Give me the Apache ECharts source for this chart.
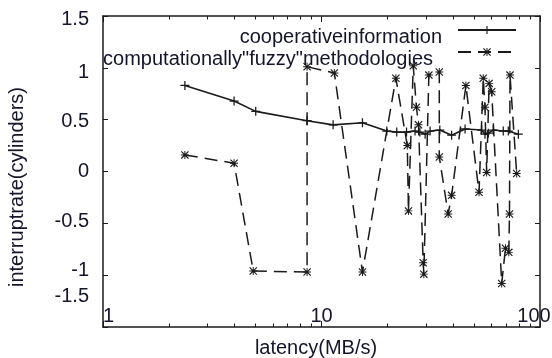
<!DOCTYPE html>
<html><head><meta charset="utf-8">
<script src="https://cdn.jsdelivr.net/npm/echarts@6/dist/echarts.min.js"></script>
<style>html,body{margin:0;padding:0;background:#fff}#c{width:552px;height:358px}</style>
</head><body><div id="c"></div>
<script>
// ---- data ----
const seriesNames = ['cooperativeinformation', 'computationally"fuzzy"methodologies'];
const xAxisTitle = 'latency(MB/s)';
const yAxisTitle = 'interruptrate(cylinders)';
const xMajorTicks = [1, 10, 100];
const xMinorTicks = [2, 3, 4, 5, 6, 7, 8, 9, 20, 30, 40, 50, 60, 70, 80, 90];
const yTicks = [-1.5, -1, -0.5, 0, 0.5, 1, 1.5];

const coopX = [2.37, 3.98, 5.0, 8.59, 11.3, 15.4, 19.9, 22.1, 24.5, 26.8, 28.2, 29.8, 31.4, 34.8, 39.4, 45.4, 54.1, 56.0, 58.0, 61.1, 67.9, 71.6, 79.6];
const coopY = [0.83, 0.68, 0.58, 0.49, 0.45, 0.47, 0.39, 0.38, 0.38, 0.39, 0.38, 0.36, 0.39, 0.40, 0.35, 0.41, 0.40, 0.36, 0.37, 0.40, 0.39, 0.39, 0.36];

const fuzzyX = [2.37, 3.98, 4.87, 8.59, 8.59, 11.45, 15.4, 21.9, 24.7, 25.0, 26.3, 27.2, 27.8, 29.2, 29.4, 31.0, 34.6, 34.6, 38.0, 39.4, 45.8, 52.6, 55.0, 56.0, 57.0, 58.5, 60.1, 66.8, 69.5, 72.0, 72.5, 72.9, 78.2];
const fuzzyY = [0.16, 0.08, -0.96, -0.97, 1.01, 0.95, -0.97, 0.9, 0.25, -0.38, 1.02, 0.62, 0.45, -0.88, -0.99, 0.93, 0.96, 0.14, -0.41, -0.23, 0.83, -0.2, 0.9, 0.62, -0.01, 0.85, 0.77, -1.08, -0.74, -0.78, -0.41, 0.93, -0.02];

// ---- style ----
const FONT = 'Liberation Sans';
const FS = 20;
const TXT = '#15152a';
const INK = '#1a1a1a';
const plusSym = 'path://M4.3,0H5.7V4.3H10V5.7H5.7V10H4.3V5.7H0V4.3H4.3Z';
const starSym = 'path://M0,1L1,0L10,9L9,10Z M9,0L10,1L1,10L0,9Z M4.4,0H5.6V10H4.4Z M0,4.4H10V5.6H0Z';

// per-label vertical nudges (px, + = down)
const yLabelShift = {'1.5': 3, '1': 5, '0.5': 2, '0': 0, '-0.5': -2, '-1': -5, '-1.5': -31};
const yRich = {};
Object.keys(yLabelShift).forEach((k, i) => {
  const s = yLabelShift[k];
  yRich['r' + i] = {fontFamily: FONT, fontSize: FS, color: TXT,
    padding: s >= 0 ? [2 * s, 0, 0, 0] : [0, 0, -2 * s, 0]};
});
const yKeys = Object.keys(yLabelShift);

const xRich = {
  lo: {fontFamily: FONT, fontSize: FS, color: TXT, padding: [0, 0, 0, 11]},
  mid: {fontFamily: FONT, fontSize: FS, color: TXT},
  hi: {fontFamily: FONT, fontSize: FS, color: TXT, padding: [0, 12, 0, 0]}
};

const grid = {left: 103, right: 12, top: 16, bottom: 31, outerBoundsMode: 'none'};

function logAxis(pos, ticks, len, showLine, showLabel) {
  return {
    type: 'log', logBase: 10, min: 1, max: 100, position: pos, gridIndex: 0,
    axisLine: {show: showLine, onZero: false, lineStyle: {color: INK, width: 1.5}},
    axisTick: {show: true, inside: true, length: len, customValues: ticks, lineStyle: {color: INK, width: 1}},
    axisLabel: showLabel ? {
      show: true, inside: true, margin: 11, verticalAlign: 'middle', customValues: xMajorTicks,
      showMinLabel: true, showMaxLabel: true,
      formatter: v => (v <= 1 ? '{lo|' : v >= 100 ? '{hi|' : '{mid|') + v + '}',
      rich: xRich
    } : {show: false},
    splitLine: {show: false}, minorTick: {show: false}
  };
}

// icon-only legend (line sample) and text-only legend for each series
function iconLegend(name, top) {
  return {
    data: [name], right: 35, top: top, padding: 0, align: 'right',
    itemWidth: 58, itemHeight: 10, itemGap: 0, selectedMode: false,
    formatter: () => '',
    textStyle: {fontSize: 1}
  };
}
function textLegend(name, top, right) {
  return {
    data: [name], right: right, top: top, padding: 0, align: 'right',
    itemWidth: 1, itemHeight: 1, itemGap: 0, selectedMode: false,
    icon: 'rect', itemStyle: {opacity: 0}, lineStyle: {opacity: 0},
    textStyle: {fontFamily: FONT, fontSize: FS, color: TXT}
  };
}

const option = {
  animation: false,
  backgroundColor: '#fff',
  grid: grid,
  legend: [
    iconLegend(seriesNames[0], 25),
    iconLegend(seriesNames[1], 47),
    textLegend(seriesNames[0], 27, 104),
    textLegend(seriesNames[1], 49, 113)
  ],
  xAxis: [
    Object.assign(logAxis('bottom', xMajorTicks, 6, true, true), {
      name: xAxisTitle, nameLocation: 'middle', nameGap: 11,
      nameTextStyle: {fontFamily: FONT, fontSize: FS, color: TXT, padding: [0, 11, 0, 0]}
    }),
    logAxis('bottom', xMinorTicks, 3.5, false, false),
    logAxis('top', xMajorTicks, 6, true, false),
    logAxis('top', xMinorTicks, 3.5, false, false)
  ],
  yAxis: [
    {type: 'value', min: -1.5, max: 1.5, interval: 0.5, position: 'left',
     name: yAxisTitle, nameLocation: 'middle', nameGap: 76,
     nameTextStyle: {fontFamily: FONT, fontSize: FS, color: TXT, padding: [0, 31, 0, 0]},
     axisLine: {show: true, onZero: false, lineStyle: {color: INK, width: 1.5}},
     axisTick: {show: true, inside: true, length: 5, lineStyle: {color: INK}},
     axisLabel: {show: true, margin: 14, showMinLabel: true, showMaxLabel: true,
       formatter: v => { const k = String(v); const i = yKeys.indexOf(k); return '{r' + i + '|' + k + '}'; },
       rich: yRich},
     splitLine: {show: false}},
    {type: 'value', min: -1.5, max: 1.5, interval: 0.5, position: 'right',
     axisLine: {show: true, onZero: false, lineStyle: {color: INK, width: 1.5}},
     axisTick: {show: true, inside: true, length: 5, lineStyle: {color: INK}},
     axisLabel: {show: false}, splitLine: {show: false}}
  ],
  series: [
    {name: seriesNames[0], type: 'line', xAxisIndex: 0, yAxisIndex: 0,
     data: coopX.map((x, i) => [x, coopY[i]]),
     symbol: plusSym, symbolSize: 9, showAllSymbol: true,
     lineStyle: {color: INK, width: 1.6, type: 'solid'},
     itemStyle: {color: INK}},
    {name: seriesNames[1], type: 'line', xAxisIndex: 0, yAxisIndex: 0,
     data: fuzzyX.map((x, i) => [x, fuzzyY[i]]),
     symbol: starSym, symbolSize: 8, showAllSymbol: true,
     lineStyle: {color: INK, width: 1.5, type: [13, 7]},
     itemStyle: {color: INK}}
  ]
};

const chart = echarts.init(document.getElementById('c'), null, {renderer: 'canvas'});
chart.setOption(option);
</script>
</body></html>
